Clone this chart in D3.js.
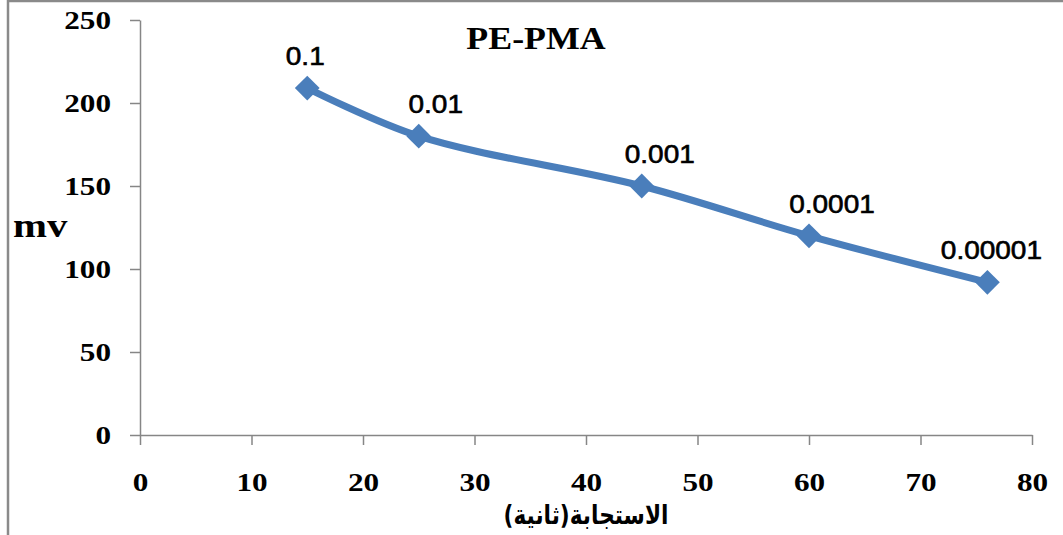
<!DOCTYPE html>
<html>
<head>
<meta charset="utf-8">
<script src="https://cdn.jsdelivr.net/npm/d3@7"></script>
<style>
  html, body { margin: 0; padding: 0; background: #fff; }
  svg { display: block; }
  .serifb { font-family: "Liberation Serif", "Times New Roman", serif; font-weight: bold; }
</style>
</head>
<body>
<svg id="chart" width="1063" height="535"></svg>
<script>
// Response time (s) against potential (mV) for the PE-PMA electrode
const responseTime = [15, 25, 45, 60, 76];
const potential = [209, 180, 150, 120, 92];
const concentrationLabels = ["0.1", "0.01", "0.001", "0.0001", "0.00001"];
const xTickValues = [0, 10, 20, 30, 40, 50, 60, 70, 80];
const yTickValues = [0, 50, 100, 150, 200, 250];
const chartTitle = "PE-PMA";
const yTitle = "mv";
const xTitle = "الاستجابة(ثانية)";

// label nudges (px) so each concentration sits above its marker
const labelDx = [-2, 17, 18, 23, 4];

const W = 1063, H = 535;
const plot = { left: 140, right: 1032, top: 20, bottom: 435 };
const blue = "#4A7EBB";
const axisGrey = "#868686";
const serifStack = "Liberation Serif, Times New Roman, serif";
const sans = "Liberation Sans, Arial, sans-serif";
const textStretch = 1.2;

const svg = d3.select("#chart");

// frame edges
svg.append("line").attr("x1", 8).attr("x2", 8).attr("y1", 0).attr("y2", H)
  .attr("stroke", "#8a8a8a").attr("stroke-width", 2.5);
svg.append("line").attr("x1", 8).attr("x2", W).attr("y1", 1).attr("y2", 1)
  .attr("stroke", "#8a8a8a").attr("stroke-width", 2.5);

const x = d3.scaleLinear().domain([0, 80]).range([plot.left, plot.right]);
const y = d3.scaleLinear().domain([0, 250]).range([plot.bottom, plot.top]);

function styleAxis(g) {
  g.attr("font-family", serifStack).attr("font-size", 26).attr("font-weight", "bold");
  g.select(".domain").attr("stroke", axisGrey).attr("stroke-width", 1.5);
  g.selectAll(".tick line").attr("stroke", axisGrey).attr("stroke-width", 1.5);
  g.selectAll(".tick text").attr("class", "serifb").attr("fill", "#000")
    .attr("font-family", serifStack).style("font-size", "26px");
}

// y axis
const gy = svg.append("g")
  .attr("transform", `translate(${plot.left},0)`)
  .call(d3.axisLeft(y).tickValues(yTickValues).tickSize(10).tickSizeOuter(0)
    .tickFormat(d3.format("d")));
styleAxis(gy);
gy.selectAll(".tick text")
  .attr("x", -29 / textStretch)
  .attr("dy", "0.33em")
  .attr("transform", `scale(${textStretch},1)`);

// x axis
const gx = svg.append("g")
  .attr("transform", `translate(0,${plot.bottom})`)
  .call(d3.axisBottom(x).tickValues(xTickValues).tickSize(10).tickSizeOuter(0)
    .tickFormat(d3.format("d")));
styleAxis(gx);
gx.selectAll(".tick text")
  .attr("x", 0).attr("y", 56).attr("dy", 0)
  .attr("transform", `scale(${textStretch},1)`);

// series line (smoothed)
const pts = responseTime.map((t, i) => [t, potential[i]]);
const line = d3.line().x(d => x(d[0])).y(d => y(d[1])).curve(d3.curveCatmullRom.alpha(0.5));
svg.append("path").datum(pts)
  .attr("d", line).attr("fill", "none")
  .attr("stroke", blue).attr("stroke-width", 7)
  .attr("stroke-linejoin", "round");

// diamond markers
const diamond = d3.symbol().type(d3.symbolDiamond2).size(2 * 14 * 14);
svg.selectAll("path.marker").data(pts).join("path")
  .attr("class", "marker")
  .attr("d", diamond)
  .attr("transform", d => `translate(${x(d[0])},${y(d[1])})`)
  .attr("fill", blue);

// concentration labels
svg.selectAll("text.conc").data(pts).join("text")
  .attr("class", "conc")
  .attr("transform", (d, i) => `translate(${x(d[0]) + labelDx[i]},${y(d[1]) - 23}) scale(1.12,1)`)
  .attr("text-anchor", "middle")
  .style("font-family", sans).style("font-size", "25px")
  .attr("fill", "#000").attr("stroke", "#000").attr("stroke-width", 0.6)
  .text((d, i) => concentrationLabels[i]);

// chart title
svg.append("text")
  .attr("class", "serifb")
  .attr("transform", `translate(536,49) scale(1.12,1)`)
  .attr("text-anchor", "middle")
  .style("font-size", "32px")
  .text(chartTitle);

// y title
svg.append("text")
  .attr("class", "serifb")
  .attr("transform", `translate(13,237) scale(${textStretch},1)`)
  .style("font-size", "34px")
  .text(yTitle);

// x title (Arabic), fitted to its span under the axis
const xt = svg.append("text")
  .attr("direction", "rtl")
  .attr("text-anchor", "middle")
  .style("font-family", "DejaVu Sans, sans-serif").style("font-weight", "bold").style("font-size", "22px")
  .text(xTitle);
const xtLen = xt.node().getComputedTextLength();
const xtScale = 165 / xtLen;
xt.attr("transform", `translate(586,524) scale(${xtScale},1.2)`);
</script>
</body>
</html>
